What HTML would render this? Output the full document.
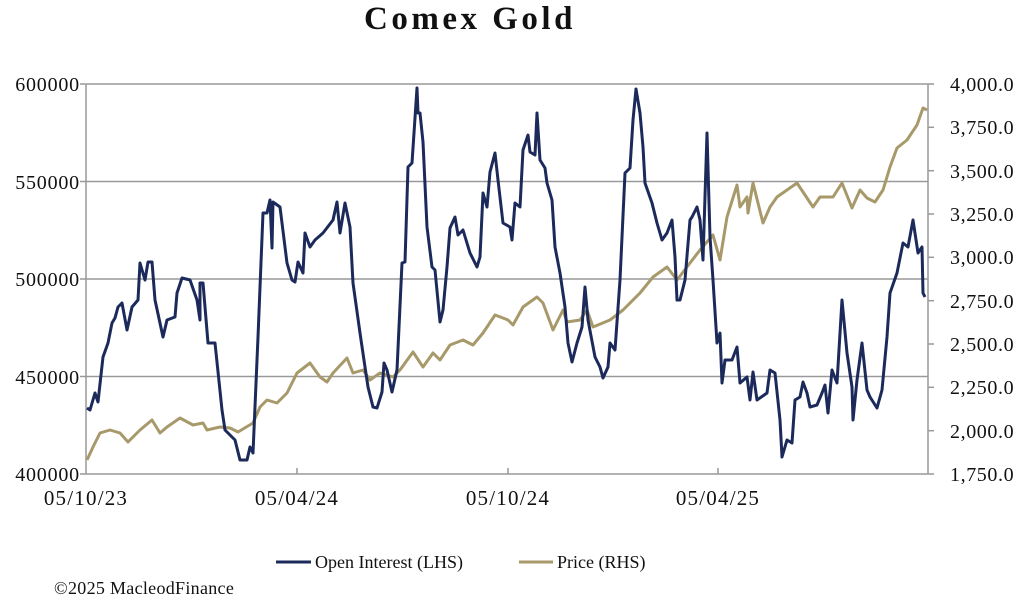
<!DOCTYPE html>
<html><head><meta charset="utf-8"><style>
body{margin:0;background:#fff;}
svg text{font-family:"Liberation Serif",serif;fill:#111;}
</style></head><body>
<svg width="1024" height="604" viewBox="0 0 1024 604" xmlns="http://www.w3.org/2000/svg">
<text x="470" y="29" text-anchor="middle" font-size="33" font-weight="bold" letter-spacing="3.5">Comex Gold</text>
<g stroke="#999" stroke-width="1.5">
<line x1="80" y1="84" x2="928" y2="84"/>
<line x1="80" y1="181.5" x2="928" y2="181.5"/>
<line x1="80" y1="279" x2="928" y2="279"/>
<line x1="80" y1="376.5" x2="928" y2="376.5"/>
<line x1="80" y1="474" x2="928" y2="474"/>
<line x1="86" y1="84" x2="86" y2="474"/>
<line x1="928" y1="84" x2="928" y2="474"/>
<line x1="297" y1="474" x2="297" y2="468"/>
<line x1="508" y1="474" x2="508" y2="468"/>
<line x1="718" y1="474" x2="718" y2="468"/>
<line x1="928" y1="84" x2="934" y2="84"/><line x1="928" y1="127.3" x2="934" y2="127.3"/><line x1="928" y1="170.7" x2="934" y2="170.7"/><line x1="928" y1="214" x2="934" y2="214"/><line x1="928" y1="257.3" x2="934" y2="257.3"/><line x1="928" y1="300.7" x2="934" y2="300.7"/><line x1="928" y1="344" x2="934" y2="344"/><line x1="928" y1="387.3" x2="934" y2="387.3"/><line x1="928" y1="430.7" x2="934" y2="430.7"/><line x1="928" y1="474" x2="934" y2="474"/>
</g>
<g font-size="20" text-anchor="end" letter-spacing="0.8">
<text x="80" y="91">600000</text><text x="80" y="189">550000</text><text x="80" y="286">500000</text><text x="80" y="384">450000</text><text x="80" y="481">400000</text>
</g>
<g font-size="20" text-anchor="start" letter-spacing="0.6">
<text x="950" y="91">4,000.0</text><text x="950" y="134">3,750.0</text><text x="950" y="178">3,500.0</text><text x="950" y="221">3,250.0</text><text x="950" y="264">3,000.0</text><text x="950" y="308">2,750.0</text><text x="950" y="351">2,500.0</text><text x="950" y="394">2,250.0</text><text x="950" y="438">2,000.0</text><text x="950" y="481">1,750.0</text>
</g>
<g font-size="21" text-anchor="middle" letter-spacing="1.2">
<text x="86" y="505">05/10/23</text><text x="297" y="505">05/04/24</text><text x="508" y="505">05/10/24</text><text x="718" y="505">05/04/25</text>
</g>
<polyline fill="none" stroke="#a8996a" stroke-width="3" stroke-linejoin="round" points="87,460 93,447 100,433 110,430 120,433 128,442 140,430 152,420 160,433 167,427 180,418 193,425 203,423 207,430 220,427 230,428 238,432 253,423 260,407 267,400 277,403 287,393 297,373 310,363 320,377 327,382 333,373 347,358 353,373 363,370 370,380 380,373 393,377 400,370 413,352 423,367 433,353 440,360 450,345 463,340 473,345 483,333 495,315 503,318 508,320 513,325 523,307 537,297 543,303 553,330 563,310 567,322 580,320 587,310 593,327 610,320 623,310 640,293 653,277 667,267 677,280 690,263 700,250 713,235 720,260 727,217 737,185 740,207 747,197 748,213 753,183 763,223 770,207 777,197 787,190 797,183 813,207 820,197 833,197 842,183 852,208 860,190 867,198 875,202 883,190 890,167 897,148 907,140 917,125 923,108 927,110"/>
<polyline fill="none" stroke="#1b2a5a" stroke-width="3" stroke-linejoin="round" points="87,408 90,410 95,393 98,402 103,357 108,343 112,323 115,318 118,307 122,303 127,330 132,307 138,300 140,263 145,280 148,262 152,262 155,300 163,337 167,320 175,317 177,293 182,278 190,280 197,300 200,320 200,283 203,283 208,343 215,343 222,410 225,430 235,440 240,460 247,460 250,447 253,453 258,337 263,213 267,213 270,200 272,248 273,202 280,207 287,263 292,280 295,282 298,262 303,273 305,233 310,247 315,240 323,233 333,220 337,202 340,233 345,203 350,227 353,283 360,333 365,367 368,387 373,407 377,408 382,392 384,363 387,370 392,392 397,370 402,263 405,262 408,167 412,163 417,88 418,113 420,113 423,142 427,227 432,267 435,270 440,322 443,310 447,267 450,228 455,217 458,235 463,230 470,253 477,267 480,257 483,193 487,207 490,172 495,153 498,180 503,223 510,227 512,240 515,203 520,207 523,150 528,135 530,152 535,155 537,113 540,160 545,168 547,183 552,200 555,247 560,273 565,307 568,343 572,362 577,343 582,327 585,287 588,320 595,357 600,367 603,378 608,367 610,343 615,350 620,280 625,173 630,168 633,120 636,89 640,113 643,147 645,183 652,203 657,223 662,240 667,233 672,220 675,257 677,300 680,300 685,280 690,220 692,217 697,207 700,220 703,260 707,133 710,237 713,280 717,343 720,333 722,383 725,360 732,360 737,347 740,383 747,377 750,400 753,372 757,400 767,393 770,370 775,373 780,420 782,457 787,440 792,443 795,400 800,397 803,382 807,393 810,407 817,405 822,393 825,385 828,413 832,370 837,383 842,300 847,353 852,387 853,420 857,380 862,343 867,390 870,397 877,408 882,390 887,337 890,293 897,273 903,243 908,247 913,220 918,253 922,247 923,293 925,297"/>
<line x1="276" y1="562" x2="311" y2="562" stroke="#1b2a5a" stroke-width="3"/>
<text x="315" y="568" font-size="18">Open Interest (LHS)</text>
<line x1="519" y1="562" x2="553" y2="562" stroke="#a8996a" stroke-width="3"/>
<text x="557" y="568" font-size="18">Price (RHS)</text>
<text x="54" y="594" font-size="18" letter-spacing="0.3">©2025 MacleodFinance</text>
</svg>
</body></html>
